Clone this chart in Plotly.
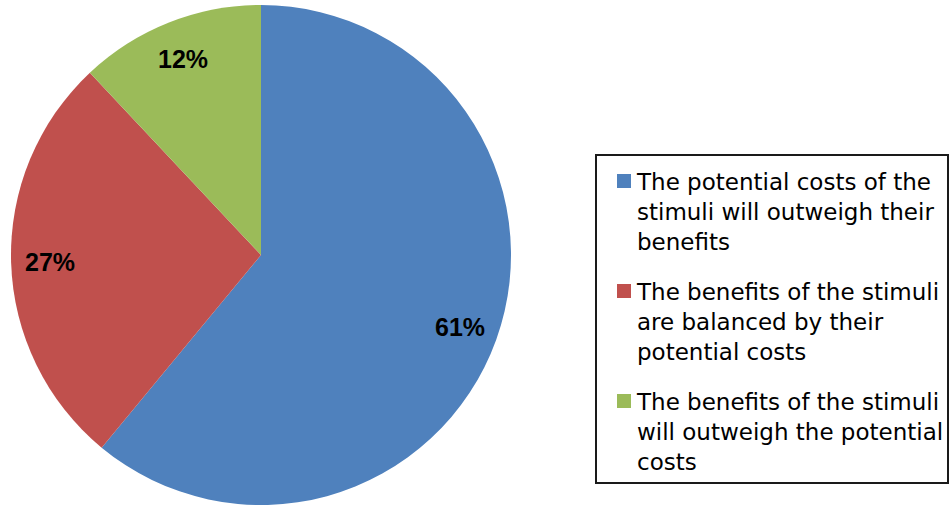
import math
import plotly.graph_objects as go

# Survey shares, in slice order (clockwise from 12 o'clock)
labels = [
    "The potential costs of the<br>stimuli will outweigh their<br>benefits",
    "The benefits of the stimuli<br>are balanced by their<br>potential costs",
    "The benefits of the stimuli<br>will outweigh the potential<br>costs",
]
values = [61, 27, 12]
colors = ["#4F81BD", "#C0504D", "#9BBB59"]

W, H = 949, 505

# Pie placement in pixels
cx, cy, R = 261, 255, 250
dom_x = [(cx - R) / W, (cx + R) / W]
dom_y = [0, (2 * R) / H]

fig = go.Figure(
    go.Pie(
        labels=[t.replace("<br>", " ") for t in labels],
        values=values,
        sort=False,
        direction="clockwise",
        rotation=0,
        marker=dict(colors=colors, line=dict(width=0)),
        textinfo="none",
        hoverinfo="label+percent",
        domain=dict(x=dom_x, y=dom_y),
        showlegend=False,
    )
)

# Percentage labels placed along each slice's mid-angle
total = sum(values)
cum = 0
for v in values:
    mid = (cum + v / 2) / total * 2 * math.pi
    cum += v
    r = 0.845 * R
    px = cx + r * math.sin(mid)
    py = cy - r * math.cos(mid)
    fig.add_annotation(
        x=px / W, y=1 - py / H, xref="paper", yref="paper",
        text=f"<b>{round(v / total * 100)}%</b>", showarrow=False,
        font=dict(family="Liberation Sans, Arial", size=25, color="#000000"),
        xanchor="center", yanchor="middle",
    )

# Boxed legend on the right
box = dict(x0=596, x1=948, y0=155, y1=483)
fig.add_shape(
    type="rect", xref="paper", yref="paper",
    x0=box["x0"] / W, x1=box["x1"] / W,
    y0=1 - box["y1"] / H, y1=1 - box["y0"] / H,
    line=dict(color="#1a1a1a", width=2), fillcolor="rgba(0,0,0,0)",
)

entry_top = 174      # top of first swatch
entry_pitch = 110    # vertical distance between entries
sw = 14              # swatch size
sw_x = 617
text_x = 634
for i, (lab, col) in enumerate(zip(labels, colors)):
    top = entry_top + i * entry_pitch
    fig.add_shape(
        type="rect", xref="paper", yref="paper",
        x0=sw_x / W, x1=(sw_x + sw) / W,
        y0=1 - (top + sw) / H, y1=1 - top / H,
        line=dict(width=0), fillcolor=col,
    )
    fig.add_annotation(
        x=text_x / W, y=1 - (top - 7) / H, xref="paper", yref="paper",
        text=lab, showarrow=False, align="left",
        xanchor="left", yanchor="top",
        font=dict(family="DejaVu Sans", size=23, color="#000000"),
    )

fig.update_layout(
    width=W, height=H,
    margin=dict(l=0, r=0, t=0, b=0),
    paper_bgcolor="white",
    plot_bgcolor="white",
    showlegend=False,
)

fig.write_html("out.html")
